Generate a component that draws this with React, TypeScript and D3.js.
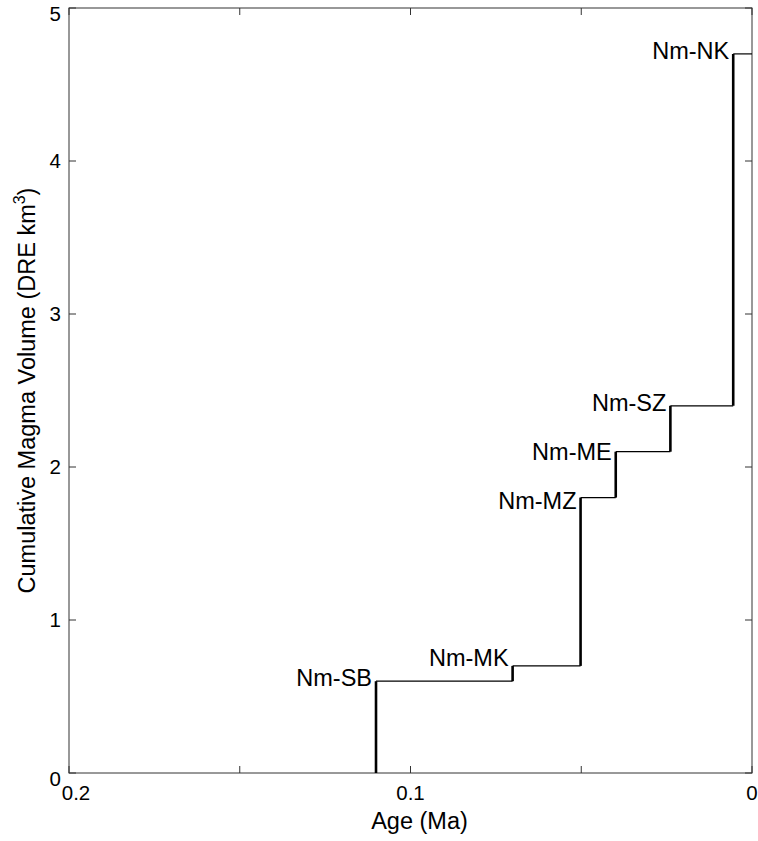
import React from "react";
import * as d3 from "d3";

// Eruption units, oldest first
const units = ["Nm-SB", "Nm-MK", "Nm-MZ", "Nm-ME", "Nm-SZ", "Nm-NK"];
// Eruption age of each unit (Ma)
const ages = [0.1101, 0.0701, 0.0502, 0.0399, 0.0239, 0.0055];
// Cumulative magma volume after each unit (DRE km3)
const cumulative = [0.6, 0.7, 1.8, 2.1, 2.4, 4.7];
// Vertical anchor of each unit label (DRE km3)
const labelVolume = [0.62, 0.75, 1.78, 2.1, 2.42, 4.72];

const xTicks = [0.2, 0.15, 0.1, 0.05, 0];
const xTickLabels = ["0.2", "", "0.1", "", "0"];
const yTicks = [0, 1, 2, 3, 4, 5];

const W = 758;
const H = 841;
const margin = { left: 69, right: 6, top: 8, bottom: 68 };
const FONT = "'Liberation Sans', Helvetica, Arial, sans-serif";

export default function App() {
  const x = d3
    .scaleLinear()
    .domain([0.2, 0])
    .range([margin.left, W - margin.right]);
  const y = d3
    .scaleLinear()
    .domain([0, 5])
    .range([H - margin.bottom, margin.top]);

  const x0 = x.range()[0];
  const x1 = x.range()[1];
  const y0 = y.range()[0];
  const y1 = y.range()[1];
  const tickLen = 7;
  const axisColor = "#333";

  const verticals = ages.map((a, i) => ({
    x: x(a),
    yFrom: y(i === 0 ? 0 : cumulative[i - 1]),
    yTo: y(cumulative[i]),
  }));
  const horizontals = ages.map((a, i) => ({
    xFrom: x(a),
    xTo: x(i === ages.length - 1 ? 0 : ages[i + 1]),
    y: y(cumulative[i]),
  }));

  // end tick labels are nudged off the corners so they do not collide
  const yLabelShift = (t: number) => (t === 0 || t === 5 ? 6 : 0);
  const xLabelShift = (t: number) => (t === 0.2 ? 7 : 0);

  return (
    <svg
      width={W}
      height={H}
      style={{ position: "absolute", left: 0, top: 0, background: "#fff" }}
      fontFamily={FONT}
    >
      {/* axes box */}
      <rect
        x={x0}
        y={y1}
        width={x1 - x0}
        height={y0 - y1}
        fill="none"
        stroke={axisColor}
        strokeWidth={1}
      />

      {/* x ticks (bottom and top, inward) */}
      {xTicks.map((t, i) => (
        <g key={"xt" + i}>
          <line x1={x(t)} x2={x(t)} y1={y0} y2={y0 - tickLen} stroke={axisColor} />
          <line x1={x(t)} x2={x(t)} y1={y1} y2={y1 + tickLen} stroke={axisColor} />
          {xTickLabels[i] && (
            <text
              x={x(t) + xLabelShift(t)}
              y={y0 + 27}
              textAnchor="middle"
              fontSize={20.5}
              fill="#000"
            >
              {xTickLabels[i]}
            </text>
          )}
        </g>
      ))}

      {/* y ticks (left and right, inward) */}
      {yTicks.map((t) => (
        <g key={"yt" + t}>
          <line x1={x0} x2={x0 + tickLen} y1={y(t)} y2={y(t)} stroke={axisColor} />
          <line x1={x1} x2={x1 - tickLen} y1={y(t)} y2={y(t)} stroke={axisColor} />
          <text
            x={x0 - 8}
            y={y(t) + yLabelShift(t)}
            dy="0.36em"
            textAnchor="end"
            fontSize={20.5}
            fill="#000"
          >
            {t}
          </text>
        </g>
      ))}

      {/* cumulative volume staircase */}
      {horizontals.map((h, i) => (
        <line
          key={"h" + i}
          x1={h.xFrom}
          x2={h.xTo}
          y1={h.y}
          y2={h.y}
          stroke="#000"
          strokeWidth={1.2}
        />
      ))}
      {verticals.map((v, i) => (
        <line
          key={"v" + i}
          x1={v.x}
          x2={v.x}
          y1={v.yFrom}
          y2={v.yTo}
          stroke="#000"
          strokeWidth={2.6}
        />
      ))}

      {/* unit labels */}
      {units.map((u, i) => (
        <text
          key={u}
          x={x(ages[i]) - 4}
          y={y(labelVolume[i])}
          dy="0.35em"
          textAnchor="end"
          fontSize={23.5}
          fill="#000"
        >
          {u}
        </text>
      ))}

      {/* axis titles */}
      <text
        x={(x0 + x1) / 2 + 9}
        y={y0 + 56}
        textAnchor="middle"
        fontSize={23.5}
        fill="#000"
      >
        Age (Ma)
      </text>
      <text
        transform={`translate(35, ${(y0 + y1) / 2}) rotate(-90)`}
        textAnchor="middle"
        fontSize={23.5}
        fill="#000"
      >
        Cumulative Magma Volume (DRE km
        <tspan fontSize={16} dy={-10}>3</tspan>
        <tspan dy={10}>)</tspan>
      </text>
    </svg>
  );
}
